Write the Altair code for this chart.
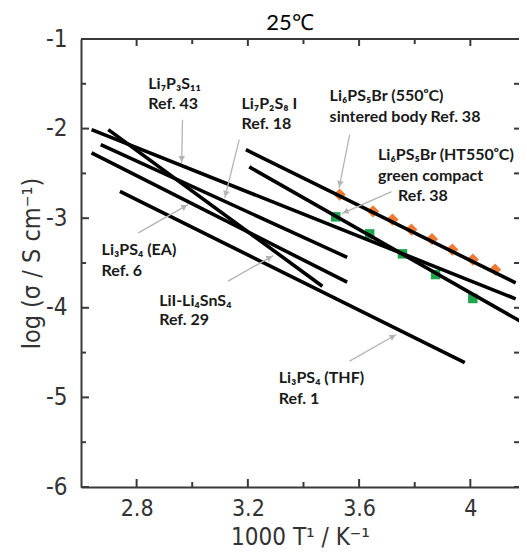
import math
import altair as alt
import pandas as pd

# ---------------- data ----------------
X_MIN, X_MAX = 2.6, 4.175
Y_MIN, Y_MAX = -6.0, -1.0
W, H = 438, 448
PAD = {"left": 73, "top": 31, "right": 0, "bottom": 62}

line_names = ["Li7P3S11", "LiI-Li4SnS4", "Li7P2S8I", "Li3PS4 (EA)", "Li3PS4 (THF)",
              "Li6PS5Br 550 sintered", "Li6PS5Br HT550 green"]
line_x0 = [2.638, 2.698, 2.671, 2.638, 2.740, 3.193, 3.205]
line_y0 = [-2.011, -2.011, -2.179, -2.271, -2.700, -2.235, -2.427]
line_x1 = [4.163, 3.468, 3.557, 3.557, 3.980, 4.163, 4.189]
line_y1 = [-3.900, -3.759, -3.436, -3.714, -4.613, -3.721, -4.167]

orange_x = [3.530, 3.650, 3.720, 3.788, 3.862, 3.935, 4.009, 4.089]
orange_y = [-2.736, -2.923, -3.015, -3.127, -3.233, -3.350, -3.462, -3.573]
green_x = [3.516, 3.638, 3.756, 3.875, 4.009]
green_y = [-2.985, -3.175, -3.398, -3.629, -3.896]

label_text = ["Li₇P₃S₁₁", "Ref. 43", "Li₇P₂S₈ I", "Ref. 18",
              "Li₆PS₅Br (550ᵒC)", "sintered body Ref. 38",
              "Li₆PS₅Br (HT550ᵒC)", "green compact", "Ref. 38",
              "Li₃PS₄ (EA)", "Ref. 6", "LiI-Li₄SnS₄", "Ref. 29",
              "Li₃PS₄ (THF)", "Ref. 1"]
label_x = [2.842, 2.842, 3.177, 3.177, 3.494, 3.494, 3.668, 3.668, 3.740,
           2.674, 2.674, 2.881, 2.881, 3.311, 3.311]
label_y = [-1.505, -1.725, -1.730, -1.948, -1.640, -1.870, -2.296, -2.525, -2.750,
           -3.360, -3.592, -3.928, -4.140, -4.788, -5.020]

arrow_x0 = [2.965, 3.169, 3.566, 3.717, 2.806, 3.129, 3.566]
arrow_y0 = [-1.900, -2.123, -2.067, -2.703, -3.164, -3.703, -4.595]
arrow_x1 = [2.962, 3.117, 3.528, 3.538, 2.985, 3.291, 3.734]
arrow_y1 = [-2.383, -2.773, -2.662, -2.948, -2.848, -3.417, -4.298]

x_major = [2.8, 3.2, 3.6, 4.0]
x_minor = [3.0, 3.4, 3.8]
y_major = [-1, -2, -3, -4, -5, -6]
y_minor = [-1.5, -2.5, -3.5, -4.5, -5.5]

title_text = ["25℃"]

# ---------------- helpers ----------------
ppx = W / (X_MAX - X_MIN)
ppy = H / (Y_MAX - Y_MIN)

xs = alt.Scale(domain=[X_MIN, X_MAX], nice=False, zero=False)
ys = alt.Scale(domain=[Y_MIN, Y_MAX], nice=False, zero=False)

AXIS_FONT = "Liberation Sans Narrow, DejaVu Sans Condensed, Liberation Sans, sans-serif"
LABEL_FONT = "Lato, Open Sans, sans-serif"
FRAME = "#3a3a3a"

lines_df = pd.DataFrame({
    "name": line_names * 2,
    "x": line_x0 + line_x1,
    "y": line_y0 + line_y1,
})
orange_df = pd.DataFrame({"x": orange_x, "y": orange_y})
green_df = pd.DataFrame({"x": green_x, "y": green_y})
labels_df = pd.DataFrame({"t": label_text, "x": label_x, "y": label_y})

arrows_df = pd.DataFrame({"x0": arrow_x0, "y0": arrow_y0, "x1": arrow_x1, "y1": arrow_y1})
heads = []
for a, b, c, d in zip(arrow_x0, arrow_y0, arrow_x1, arrow_y1):
    dx = (c - a) * ppx
    dy = -(d - b) * ppy
    L = math.hypot(dx, dy)
    ux, uy = dx / L, dy / L
    ang = math.degrees(math.atan2(ux, -uy)) % 360
    heads.append({"x": c - ux * 4 / ppx, "y": d + uy * 4 / ppy, "ang": ang})
heads_df = pd.DataFrame(heads)

# ticks (inward)
def vticks(vals, base, length, up=True):
    off = length / ppy
    return pd.DataFrame({"x": vals, "y": [base] * len(vals),
                         "y2": [base + off if up else base - off] * len(vals)})

def hticks(vals, base, length, right=True):
    off = length / ppx
    return pd.DataFrame({"y": vals, "x": [base] * len(vals),
                         "x2": [base + off if right else base - off] * len(vals)})

tick_v = pd.concat([
    vticks(x_major, Y_MIN, 8, True), vticks(x_minor, Y_MIN, 5, True),
    vticks(x_major, Y_MAX, 7, False), vticks(x_minor, Y_MAX, 5, False),
])
tick_h = pd.concat([
    hticks(y_major, X_MIN, 8, True), hticks(y_minor, X_MIN, 5, True),
    hticks(y_major + y_minor, X_MAX, 5, False),
])

# ---------------- layers ----------------
base_axes = alt.Chart(lines_df).mark_line(clip=True, stroke="black", strokeWidth=3.6).encode(
    x=alt.X("x:Q", scale=xs, axis=alt.Axis(
        values=x_major, labelExpr="'' + datum.value", ticks=False, tickSize=0,
        grid=False, domainColor=FRAME, domainWidth=2, labelPadding=10,
        title="1000 T¹ / K⁻¹", titleY=57, titleBaseline="alphabetic",
        labelFontSize=23, titleFontSize=24, labelFont=AXIS_FONT, titleFont=AXIS_FONT,
        labelColor="#333", titleColor="#333", titleFontWeight="normal")),
    y=alt.Y("y:Q", scale=ys, axis=alt.Axis(
        values=y_major, labelExpr="'' + datum.value", ticks=False, tickSize=0,
        grid=False, domainColor=FRAME, domainWidth=2, labelPadding=14,
        title="log (σ / S cm⁻¹)", titleX=-50, titleY=H / 2, titleAngle=270,
        titleAlign="center", titleBaseline="middle",
        labelFontSize=24, titleFontSize=25, labelFont=AXIS_FONT, titleFont=AXIS_FONT,
        labelColor="#333", titleColor="#333", titleFontWeight="normal")),
    detail="name:N",
)

orange = alt.Chart(orange_df).mark_point(shape="diamond", filled=True, size=150,
                                         color="#f07a35", opacity=1).encode(
    x=alt.X("x:Q", scale=xs), y=alt.Y("y:Q", scale=ys))
green = alt.Chart(green_df).mark_point(shape="square", filled=True, size=90,
                                       color="#1fa64c", opacity=1).encode(
    x=alt.X("x:Q", scale=xs), y=alt.Y("y:Q", scale=ys))

top_rule = alt.Chart(pd.DataFrame({"y": [Y_MAX], "x": [X_MIN], "x2": [X_MAX]})).mark_rule(
    color=FRAME, strokeWidth=2).encode(x=alt.X("x:Q", scale=xs), x2="x2:Q",
                                        y=alt.Y("y:Q", scale=ys))
vt = alt.Chart(tick_v).mark_rule(color=FRAME, strokeWidth=2).encode(
    x=alt.X("x:Q", scale=xs), y=alt.Y("y:Q", scale=ys), y2="y2:Q")
ht = alt.Chart(tick_h).mark_rule(color=FRAME, strokeWidth=2).encode(
    x=alt.X("x:Q", scale=xs), x2="x2:Q", y=alt.Y("y:Q", scale=ys))

arrows = alt.Chart(arrows_df).mark_rule(color="#b4b4b4", strokeWidth=1.3).encode(
    x=alt.X("x0:Q", scale=xs), y=alt.Y("y0:Q", scale=ys), x2="x1:Q", y2="y1:Q")
arrowheads = alt.Chart(heads_df).mark_point(shape="triangle-up", filled=True, size=45,
                                            color="#b4b4b4", opacity=1).encode(
    x=alt.X("x:Q", scale=xs), y=alt.Y("y:Q", scale=ys),
    angle=alt.Angle("ang:Q", scale=None))

labels = alt.Chart(labels_df).mark_text(align="left", baseline="middle", font=LABEL_FONT,
                                        fontSize=16, fontWeight="bold", color="#1a1a1a").encode(
    x=alt.X("x:Q", scale=xs), y=alt.Y("y:Q", scale=ys), text="t:N")

title = alt.Chart(pd.DataFrame({"t": title_text})).mark_text(
    font=LABEL_FONT, fontSize=22, color="black", align="center", baseline="middle").encode(
    x=alt.value(209), y=alt.value(-16), text="t:N")

chart = alt.layer(orange, green, base_axes, top_rule, vt, ht, arrows, arrowheads, labels,
                  title).properties(
    width=W, height=H,
    padding=PAD,
    autosize=alt.AutoSizeParams(type="none"),
).configure_view(stroke=None)

chart.save("out.html", embed_options={"renderer": "svg", "actions": False})
